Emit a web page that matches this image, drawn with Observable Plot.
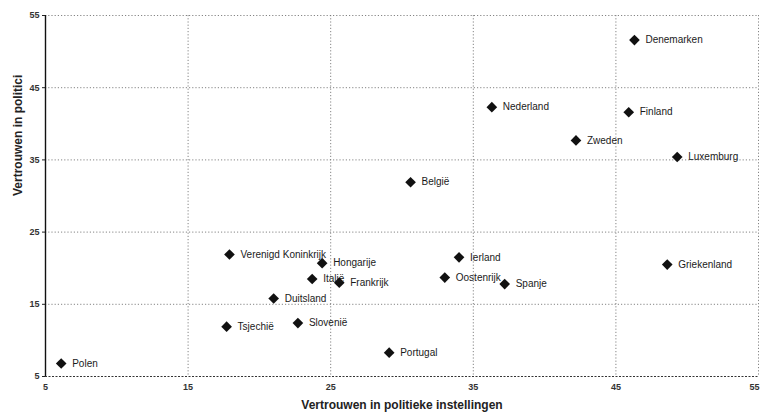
<!DOCTYPE html>
<html>
<head>
<meta charset="utf-8">
<script src="https://cdn.jsdelivr.net/npm/d3@7"></script>
<script src="https://cdn.jsdelivr.net/npm/@observablehq/plot@0.6"></script>
<style>
  html, body { margin: 0; padding: 0; background: #fff; }
  #chart svg { display: block; }
</style>
</head>
<body>
<div id="chart"></div>
<script>
const countries = ["Polen","Denemarken","Nederland","Finland","Zweden","Luxemburg","België","Verenigd Koninkrijk","Hongarije","Italië","Frankrijk","Duitsland","Tsjechië","Slovenië","Portugal","Ierland","Oostenrijk","Spanje","Griekenland"];
const instellingen = [6.1, 46.3, 36.3, 45.9, 42.2, 49.3, 30.6, 17.9, 24.4, 23.7, 25.6, 21.0, 17.7, 22.7, 29.1, 34.0, 33.0, 37.2, 48.6];
const politici     = [6.8, 51.6, 42.3, 41.6, 37.7, 35.4, 31.9, 21.9, 20.7, 18.5, 18.0, 15.8, 11.9, 12.4, 8.3, 21.5, 18.7, 17.8, 20.5];
const ticks = [5, 15, 25, 35, 45, 55];
const xTitle = "Vertrouwen in politieke instellingen";
const yTitle = "Vertrouwen in politici";

const data = countries.map((c, i) => ({country: c, x: instellingen[i], y: politici[i]}));
const font = "'Liberation Sans', Arial, sans-serif";

const chart = Plot.plot({
  width: 760,
  height: 414,
  marginLeft: 45,
  marginRight: 2,
  marginTop: 15,
  marginBottom: 38,
  style: {fontFamily: font, background: "#fff", color: "#222"},
  x: {domain: [5, 55], ticks: ticks, label: null},
  y: {domain: [5, 55], ticks: ticks, label: null},
  marks: [
    Plot.gridX(ticks.slice(1), {stroke: "#777", strokeOpacity: 1, strokeDasharray: "1.2,2", strokeWidth: 0.9}),
    Plot.gridY(ticks.slice(1), {stroke: "#777", strokeOpacity: 1, strokeDasharray: "1.2,2", strokeWidth: 0.9}),
    Plot.ruleY([5], {stroke: "#333", strokeDasharray: "2,1.5", strokeWidth: 1}),
    Plot.ruleX([5], {stroke: "#111", strokeWidth: 1.4}),
    Plot.axisX({ticks: ticks.slice(0, -1), tickSize: 0, tickPadding: 7, fontSize: 9, fontWeight: "bold", fill: "#333", label: null}),
    Plot.axisX({ticks: ticks.slice(-1), tickSize: 0, tickPadding: 7, textAnchor: "end", dx: 1, fontSize: 9, fontWeight: "bold", fill: "#333", label: null}),
    Plot.axisY({ticks: ticks, tickSize: 3, tickPadding: 3, fontSize: 9, fontWeight: "bold", fill: "#333", label: null}),
    Plot.text([xTitle], {frameAnchor: "bottom", dy: 32, fontSize: 12, fontWeight: "bold", fill: "#222"}),
    Plot.text([yTitle], {frameAnchor: "left", dx: -27, rotate: -90, fontSize: 12, fontWeight: "bold", fill: "#222"}),
    Plot.dot(data, {x: "x", y: "y", symbol: "diamond2", r: 4.8, fill: "#111", stroke: "none"}),
    Plot.text(data, {x: "x", y: "y", text: "country", textAnchor: "start", dx: 11, fontSize: 10, fill: "#1a1a1a", fontWeight: 500})
  ]
});
document.getElementById("chart").append(chart);
</script>
</body>
</html>
